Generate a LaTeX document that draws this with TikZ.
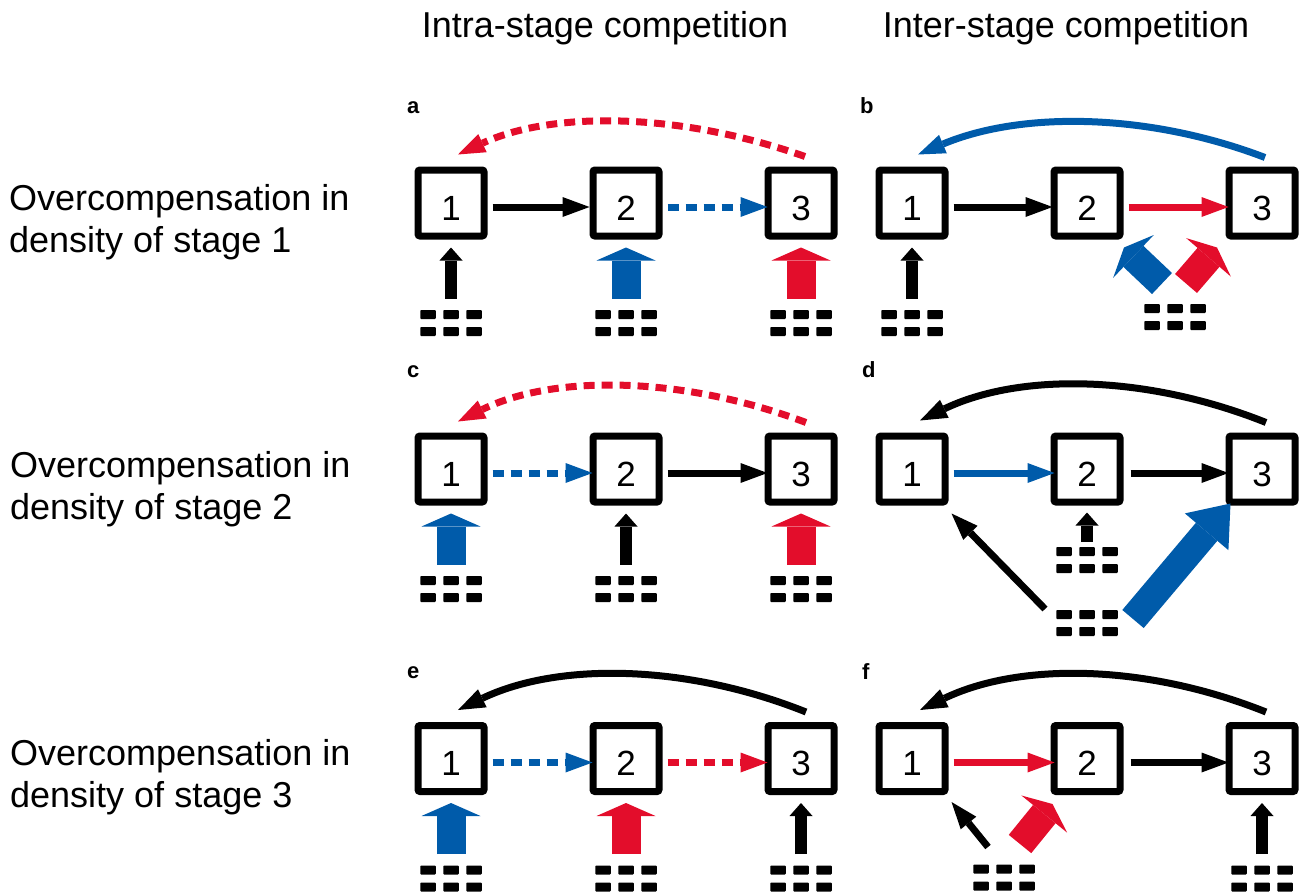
\documentclass[tikz,border=0pt]{standalone}
\usepackage{fontspec}
\setmainfont{Liberation Sans}
\usetikzlibrary{arrows.meta,positioning,calc}
\definecolor{compblue}{RGB}{0,91,170}
\definecolor{compred}{RGB}{227,13,43}
\tikzset{
    stage/.style={
        rectangle,
        draw=black,
        line width=7pt,
        rounded corners=2pt,
        fill=white,
        minimum size=66pt,
        inner sep=0pt,
        text height=34pt,
        text depth=0pt,
        font=\fontsize{35}{40}\selectfont,
    },
    dens/.style={
        rectangle,
        fill=white,
        minimum width=62pt,
        minimum height=27pt,
        inner sep=0pt,
        outer sep=0pt,
        path picture={
            \foreach \i in {-1,0,1}
                \foreach \j in {-1,1}
                    \fill[black,rounded corners=0.8pt] ($(path picture bounding box.center)+(\i*23pt-7.75pt,\j*8.5pt-4.5pt)$) rectangle ++(15.5pt,9pt);
        },
    },
    flow/.style={line width=7pt,-{Triangle[width=20pt,length=27pt,line width=0pt]}},
    dflow/.style={flow,dash pattern=on 11pt off 7pt},
    push/.style={line width=12pt,-{Triangle[width=23pt,length=13pt,line width=0pt]}},
    bigpush/.style={line width=29pt,-{Triangle[width=59pt,length=13pt,line width=0pt]}},
    hugepush/.style={line width=28pt,-{Triangle[width=57pt,length=37pt,line width=0pt]}},
    heading/.style={font=\fontsize{36}{42}\selectfont,inner sep=0pt,anchor=base},
    rowlab/.style={font=\fontsize{36}{42}\selectfont,inner sep=0pt,anchor=base west},
    panel/.style={font=\fontsize{22}{26}\selectfont\bfseries,inner sep=0pt,anchor=base west},
}

\begin{document}
\begin{tikzpicture}[x=1pt,y=-1pt,node distance=70pt and 102pt]
    \useasboundingbox (0,0) rectangle (1304,894);

    \node[heading] (intra) at (605,37) {Intra-stage competition};
    \node[heading] (inter) at (1066,37) {Inter-stage competition};
    \node[rowlab] (r1a) at (9,210) {Overcompensation in};
    \node[rowlab] (r1b) at (9,252) {density of stage 1};
    \node[rowlab] (r2a) at (10,477) {Overcompensation in};
    \node[rowlab] (r2b) at (10,519) {density of stage 2};
    \node[rowlab] (r3a) at (10,765) {Overcompensation in};
    \node[rowlab] (r3b) at (10,807) {density of stage 3};

    \node[panel] (la) at (407,113) {a};
    \node[stage] (a1) at (451,203) {1};
    \node[stage, right=of a1] (a2) {2};
    \node[stage, right=of a2] (a3) {3};
    \node[dens, below=of a1] (a1d) {};
    \node[dens, below=of a2] (a2d) {};
    \node[dens, below=of a3] (a3d) {};
    \draw[flow] ([shift={(5,4)}]a1.east) -- ([shift={(0,4)}]a2.west);
    \draw[dflow,compblue] ([shift={(5,4)}]a2.east) -- ([shift={(3,4)}]a3.west);
    \draw[dflow,compred] ([shift={(4,-10)}]a3.north) .. controls +(-125,-44) and +(95,-44) .. ([shift={(7,-12)}]a1.north);
    \draw[push] ([shift={(0,-11)}]a1d.north) -- ([shift={(0,8)}]a1.south);
    \draw[bigpush,compblue] ([shift={(0,-11)}]a2d.north) -- ([shift={(0,8)}]a2.south);
    \draw[bigpush,compred] ([shift={(0,-11)}]a3d.north) -- ([shift={(0,8)}]a3.south);

    \node[panel] (lb) at (860,113) {b};
    \node[stage] (b1) at (912,203) {1};
    \node[stage, right=of b1] (b2) {2};
    \node[stage, right=of b2] (b3) {3};
    \node[dens, below=of b1] (b1d) {};
    \node[dens] (bd) at (1175,317) {};
    \draw[flow] ([shift={(5,4)}]b1.east) -- ([shift={(2,4)}]b2.west);
    \draw[flow,compred] ([shift={(5,4)}]b2.east) -- ([shift={(3,4)}]b3.west);
    \draw[flow,compblue] ([shift={(3,-9)}]b3.north) .. controls +(-115,-44) and +(105,-44) .. ([shift={(6,-12)}]b1.north);
    \draw[push] ([shift={(0,-11)}]b1d.north) -- ([shift={(0,8)}]b1.south);
    \draw[bigpush,compblue] ([shift={(-13,-20)}]bd.north) -- ([shift={(37,8)}]b2.south);
    \draw[bigpush,compred] ([shift={(11,-20)}]bd.north) -- ([shift={(-45,8)}]b3.south);

    \node[panel] (lc) at (407,377) {c};
    \node[stage] (c1) at (451,469) {1};
    \node[stage, right=of c1] (c2) {2};
    \node[stage, right=of c2] (c3) {3};
    \node[dens, below=of c1] (c1d) {};
    \node[dens, below=of c2] (c2d) {};
    \node[dens, below=of c3] (c3d) {};
    \draw[dflow,compblue] ([shift={(5,4)}]c1.east) -- ([shift={(3,4)}]c2.west);
    \draw[flow] ([shift={(5,4)}]c2.east) -- ([shift={(3,4)}]c3.west);
    \draw[dflow,compred] ([shift={(5,-10)}]c3.north) .. controls +(-125,-47) and +(95,-47) .. ([shift={(7,-11)}]c1.north);
    \draw[bigpush,compblue] ([shift={(0,-11)}]c1d.north) -- ([shift={(0,8)}]c1.south);
    \draw[push] ([shift={(0,-11)}]c2d.north) -- ([shift={(0,8)}]c2.south);
    \draw[bigpush,compred] ([shift={(0,-11)}]c3d.north) -- ([shift={(0,8)}]c3.south);

    \node[panel] (ld) at (862,377) {d};
    \node[stage] (d1) at (912,469) {1};
    \node[stage, right=of d1] (d2) {2};
    \node[stage, right=of d2] (d3) {3};
    \node[dens, below=41pt of d2] (dd1) {};
    \node[dens, below=36pt of dd1] (dd2) {};
    \draw[flow,compblue] ([shift={(5,4)}]d1.east) -- ([shift={(4,4)}]d2.west);
    \draw[flow] ([shift={(7,4)}]d2.east) -- ([shift={(3,4)}]d3.west);
    \draw[flow] ([shift={(4,-10)}]d3.north) .. controls +(-120,-48) and +(100,-48) .. ([shift={(8,-12)}]d1.north);
    \draw[push] ([shift={(0,-5)}]dd1.north) -- ([shift={(0,7)}]d2.south);
    \draw[flow] ([shift={(-11,-14)}]dd2.west) -- ([shift={(3,8)}]d1.south east);
    \draw[hugepush,compblue] ([shift={(15,-4)}]dd2.east) -- ([shift={(5,-2)}]d3.south west);

    \node[panel] (le) at (407,678) {e};
    \node[stage] (e1) at (451,758.5) {1};
    \node[stage, right=of e1] (e2) {2};
    \node[stage, right=of e2] (e3) {3};
    \node[dens, below=of e1] (e1d) {};
    \node[dens, below=of e2] (e2d) {};
    \node[dens, below=of e3] (e3d) {};
    \draw[dflow,compblue] ([shift={(5,4)}]e1.east) -- ([shift={(3,4)}]e2.west);
    \draw[dflow,compred] ([shift={(5,4)}]e2.east) -- ([shift={(3,4)}]e3.west);
    \draw[flow] ([shift={(5,-10)}]e3.north) .. controls +(-120,-48) and +(100,-48) .. ([shift={(7,-12)}]e1.north);
    \draw[bigpush,compblue] ([shift={(0,-11)}]e1d.north) -- ([shift={(0,8)}]e1.south);
    \draw[bigpush,compred] ([shift={(0,-11)}]e2d.north) -- ([shift={(0,8)}]e2.south);
    \draw[push] ([shift={(0,-11)}]e3d.north) -- ([shift={(0,8)}]e3.south);

    \node[panel] (lf) at (862,679) {f};
    \node[stage] (f1) at (912,758.5) {1};
    \node[stage, right=of f1] (f2) {2};
    \node[stage, right=of f2] (f3) {3};
    \node[dens] (ff1) at (1004,877.5) {};
    \node[dens, below=of f3] (f3d) {};
    \draw[flow,compred] ([shift={(5,4)}]f1.east) -- ([shift={(4,4)}]f2.west);
    \draw[flow] ([shift={(7,4)}]f2.east) -- ([shift={(3,4)}]f3.west);
    \draw[flow] ([shift={(4,-10)}]f3.north) .. controls +(-120,-48) and +(100,-48) .. ([shift={(8,-12)}]f1.north);
    \draw[flow] ([shift={(-16,-17)}]ff1.north) -- ([shift={(3,7)}]f1.south east);
    \draw[bigpush,compred] ([shift={(16,-20)}]ff1.north) -- ([shift={(2,9)}]f2.south west);
    \draw[push] ([shift={(0,-11)}]f3d.north) -- ([shift={(0,8)}]f3.south);
\end{tikzpicture}
\end{document}
